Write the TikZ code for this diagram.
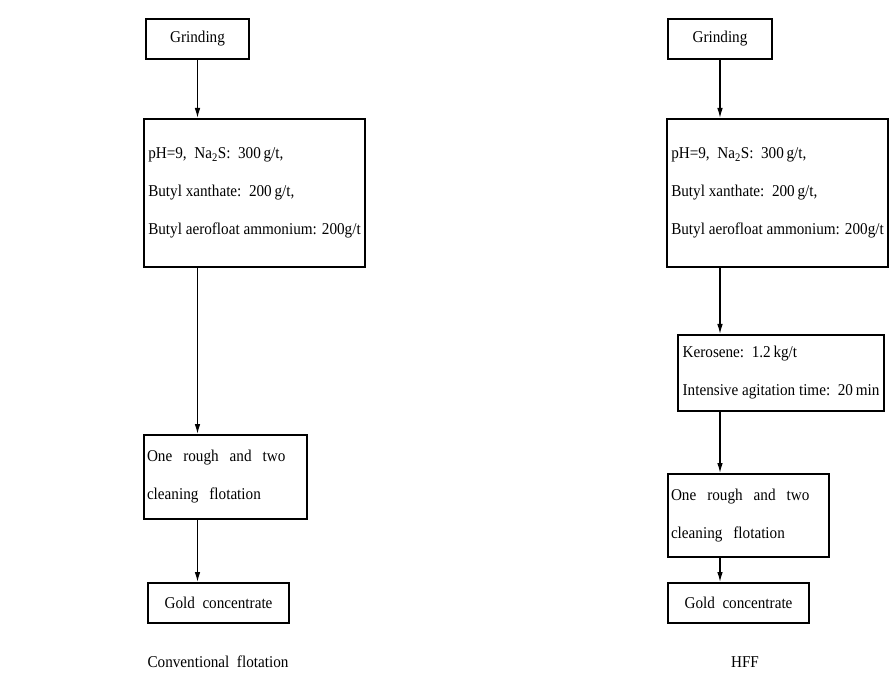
\documentclass[tikz,border=0pt]{standalone}
\usepackage{fontspec}
\setmainfont{Liberation Serif}[FakeStretch=0.92]
\usetikzlibrary{arrows.meta}

\newcommand{\gap}{\hspace{11pt}}

\tikzset{
    box/.style={draw, line width=2pt, anchor=north west, inner xsep=3pt, inner ysep=0pt, align=left},
    flow/.style={-{Latex[length=10pt,width=5.5pt]}, line width=1.1pt}
}

\begin{document}
\begin{tikzpicture}[x=1pt, y=-1pt, font={\fontsize{16.5}{38}\selectfont}]
    \useasboundingbox (0,0) rectangle (892,676);

    % conventional flotation
    \node[box, minimum width=103pt, minimum height=40pt, align=center] (grindL) at (145,18) {Grinding};
    \node[box, minimum width=221pt, minimum height=148pt] (reagL) at (143,118)
        {pH=9,\ \ Na\textsubscript{2}S:\ \ 300\,g/t,\\ Butyl xanthate:\ \ 200\,g/t,\\ Butyl aerofloat ammonium: 200g/t};
    \node[box, text width=157pt, minimum height=84pt] (flotL) at (143,434)
        {\mbox{One\gap rough\gap and\gap two}\\ \mbox{cleaning\gap flotation}};
    \node[box, minimum width=141pt, minimum height=40pt, align=center] (goldL) at (147,582) {Gold\ \ concentrate};
    \node (capL) at (218,662) {Conventional\ \ flotation};

    \draw[flow] (grindL.south) -- (grindL.south |- reagL.north);
    \draw[flow] (reagL.south -| grindL.south) -- (flotL.north -| grindL.south);
    \draw[flow] (flotL.south -| grindL.south) -- (goldL.north -| grindL.south);

    % HFF
    \node[box, minimum width=104pt, minimum height=40pt, align=center] (grindR) at (667,18) {Grinding};
    \node[box, minimum width=221pt, minimum height=148pt] (reagR) at (666,118)
        {pH=9,\ \ Na\textsubscript{2}S:\ \ 300\,g/t,\\ Butyl xanthate:\ \ 200\,g/t,\\ Butyl aerofloat ammonium: 200g/t};
    \node[box, minimum width=206pt, minimum height=76pt] (keroR) at (677,334)
        {Kerosene:\ \ 1.2\,kg/t\\ Intensive agitation time:\ \ 20\,min};
    \node[box, text width=155pt, minimum height=83pt] (flotR) at (667,473)
        {\mbox{One\gap rough\gap and\gap two}\\ \mbox{cleaning\gap flotation}};
    \node[box, minimum width=141pt, minimum height=40pt, align=center] (goldR) at (667,582) {Gold\ \ concentrate};
    \node (capR) at (745,662) {HFF};

    \draw[flow] (grindR.south) -- (grindR.south |- reagR.north);
    \draw[flow] (reagR.south -| grindR.south) -- (keroR.north -| grindR.south);
    \draw[flow] (keroR.south -| grindR.south) -- (flotR.north -| grindR.south);
    \draw[flow] (flotR.south -| grindR.south) -- (goldR.north -| grindR.south);
\end{tikzpicture}
\end{document}
